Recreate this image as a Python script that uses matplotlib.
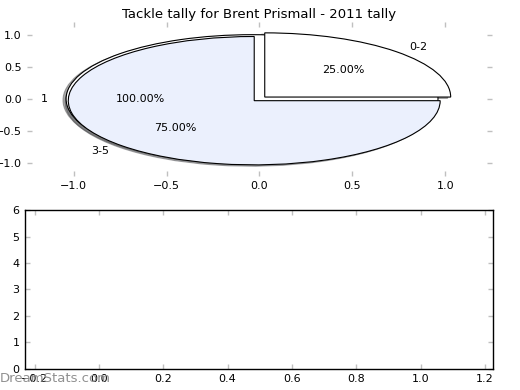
import matplotlib
matplotlib.use("Agg")
import matplotlib.pyplot as plt

# === data ===
title = "Tackle tally for Brent Prismall - 2011 tally"
all_labels = ['1']
all_counts = [1]
range_labels = ['0-2', '3-5']
range_counts = [1, 3]
pie_xticks = [-1.0, -0.5, 0.0, 0.5, 1.0]
pie_yticks = [-1.0, -0.5, 0.0, 0.5, 1.0]
low_xticks = [-0.2, 0.0, 0.2, 0.4, 0.6, 0.8, 1.0, 1.2]
low_yticks = [0, 1, 2, 3, 4, 5, 6]

plt.rcParams['font.family'] = ['DejaVu Sans']
plt.rcParams['font.size'] = 8

fig = plt.figure(figsize=(5.2, 3.9), dpi=100)
ax1 = fig.add_axes([0.052, 0.549, 0.894, 0.395])
ax2 = fig.add_axes([0.048, 0.054, 0.900, 0.4075])

# === top: pies ===
wp = dict(edgecolor='black', linewidth=0.8)
shadow = dict(ox=-0.012, oy=-0.015, alpha=0.45)
ax1.pie(all_counts, labels=all_labels, autopct='%1.2f%%', explode=[0.04],
        colors=['white'], shadow=shadow, startangle=0, wedgeprops=wp,
        textprops=dict(fontsize=8))
ax1.pie(range_counts, labels=range_labels, autopct='%1.2f%%',
        explode=[0.04, 0.04], colors=['white', '#ebf0fd'], shadow=shadow,
        startangle=0, wedgeprops=wp, textprops=dict(fontsize=8))
ax1.set_aspect('auto')
ax1.set_frame_on(False)
ax1.set_xlim(-1.25, 1.25)
ax1.set_ylim(-1.2, 1.2)
ax1.set_xticks(pie_xticks)
ax1.set_yticks(pie_yticks)
ax1.set_title(title, fontsize=9.5, pad=3)

# === bottom: empty axes ===
ax2.set_xlim(-0.23, 1.225)
ax2.set_ylim(0, 6)
ax2.set_xticks(low_xticks)
ax2.set_yticks(low_yticks)
for sp in ax2.spines.values():
    sp.set_linewidth(1.0)

for ax in (ax1, ax2):
    ax.tick_params(direction='in', length=3.5, width=1, color='#c0c0c0',
                   top=True, right=True, labelsize=8, pad=4)

# watermark
fig.text(0.0, 0.03, "DreamStats.com", color='#909090', fontsize=9.5,
         ha='left', va='center')

fig.savefig('out.png', dpi=100)
